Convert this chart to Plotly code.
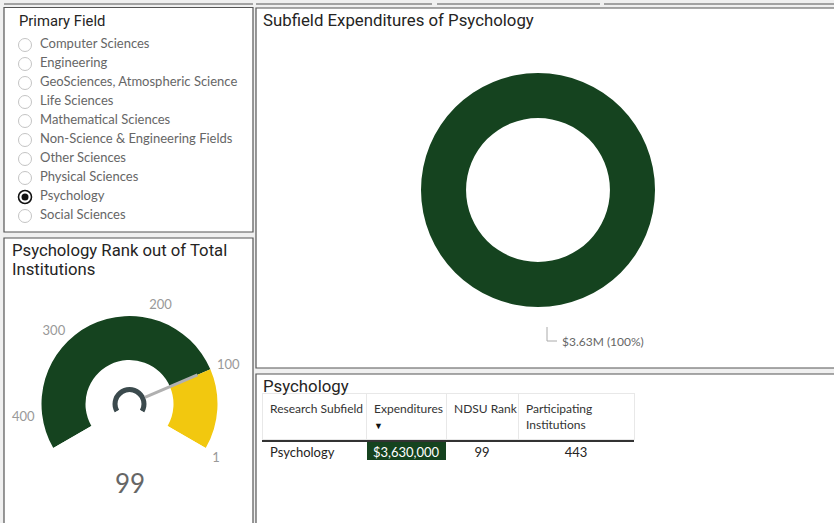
import plotly.graph_objects as go

W, H = 834, 523

# ---------------- data ----------------
fields = ["Computer Sciences", "Engineering", "GeoSciences, Atmospheric Science",
          "Life Sciences", "Mathematical Sciences", "Non-Science & Engineering Fields",
          "Other Sciences", "Physical Sciences", "Psychology", "Social Sciences"]
selected_field = "Psychology"

subfields = ["Psychology"]
expenditures = [3630000]
ndsu_rank = [99]
participating = [443]

gauge_min = 1
gauge_ticks = [1, 100, 200, 300, 400]

# ---------------- style ----------------
GREEN = "#15431F"
YELLOW = "#F2C80F"
HUB = "#3B4A4D"
BORDER = "#555555"
BG = "#F0F0F0"
TITLE_FONT = "Roboto, DejaVu Sans, sans-serif"
BODY_FONT = "Lato, Segoe UI, sans-serif"
NB = "\u00a0"


def px(x):
    return x / W


def py(y):
    return 1 - y / H


fig = go.Figure()

# ---------------- slicer ----------------
fig.add_trace(go.Scatter(
    x=[25] * len(fields), y=fields, mode="markers",
    marker=dict(size=13, color="white",
                line=dict(color=["#111111" if f == selected_field else "#C4C4C4" for f in fields],
                          width=[1.6 if f == selected_field else 1 for f in fields])),
    xaxis="x", yaxis="y", hoverinfo="skip", showlegend=False))
fig.add_trace(go.Scatter(
    x=[25], y=[selected_field], mode="markers",
    marker=dict(size=7, color="#111111"),
    xaxis="x", yaxis="y", hoverinfo="skip", showlegend=False))
fig.add_trace(go.Scatter(
    x=[40] * len(fields), y=fields, mode="text", text=fields,
    textposition="middle right",
    textfont=dict(family=BODY_FONT, size=13, color="#666666"),
    xaxis="x", yaxis="y", hoverinfo="skip", showlegend=False))

# ---------------- gauge ----------------
gmax = participating[0]
val = ndsu_rank[0]
G_START, G_SWEEP = -30, 240


def ang(v):
    return G_START + (v - gauge_min) / (gmax - gauge_min) * G_SWEEP


fig.add_trace(go.Barpolar(
    theta=[ang((val + gmax) / 2), ang((gauge_min + val) / 2)],
    width=[ang(gmax) - ang(val), ang(val) - ang(gauge_min)],
    r=[0.5, 0.5], base=[0.5, 0.5],
    marker=dict(color=[GREEN, YELLOW], line=dict(width=0)),
    hoverinfo="skip", showlegend=False, subplot="polar"))
fig.add_trace(go.Barpolar(
    theta=[ang((gauge_min + gmax) / 2)], width=[ang(gmax) - ang(gauge_min)],
    r=[0.057], base=[0.136],
    marker=dict(color=HUB, line=dict(width=0)),
    hoverinfo="skip", showlegend=False, subplot="polar"))
fig.add_trace(go.Scatterpolar(
    theta=[ang(val), ang(val)], r=[0.19, 0.84], mode="lines",
    line=dict(color="#B0B0B0", width=3),
    hoverinfo="skip", showlegend=False, subplot="polar"))

# ---------------- donut ----------------
fig.add_trace(go.Pie(
    values=expenditures, labels=subfields, hole=0.615, sort=False,
    marker=dict(colors=[GREEN], line=dict(width=0)),
    textinfo="none", hoverinfo="skip", showlegend=False,
    domain=dict(x=[px(421), px(655)], y=[py(307), py(73)])))

# ---------------- table ----------------
exp_text = [f"${v:,.0f}" for v in expenditures]
fig.add_trace(go.Table(
    domain=dict(x=[px(262), px(634)], y=[0, py(393)]),
    columnwidth=[104, 80, 72, 116],
    header=dict(
        values=[f"Research{NB}Subfield<br>{NB}",
                "Expenditures<br><span style='font-size:9px;color:#111'>▼</span>",
                f"NDSU{NB}Rank<br>{NB}", "Participating<br>Institutions"],
        align="left", height=42,
        fill=dict(color="white"),
        line=dict(color="#E8E8E8", width=1),
        font=dict(family=BODY_FONT, size=12, color="#333333")),
    cells=dict(
        values=[subfields, exp_text, [str(v) for v in ndsu_rank], [str(v) for v in participating]],
        align=["left", "center", "center", "center"], height=21,
        fill=dict(color=[["white"], [GREEN], ["white"], ["white"]]),
        line=dict(color="white", width=1),
        font=dict(family=BODY_FONT, size=13,
                  color=[["#252423"], ["white"], ["#252423"], ["#252423"]]))))

# ---------------- panels / decorations ----------------
shapes = []
panels = [(4, 7.5, 253, 232), (4, 238, 253, 530), (256, 8, 840, 368), (256, 374, 840, 530)]
for x0, y0, x1, y1 in panels:
    shapes.append(dict(type="rect", xref="paper", yref="paper", layer="below",
                       x0=px(x0), x1=px(x1), y0=py(y1), y1=py(y0),
                       fillcolor="white", line=dict(color=BORDER, width=1.2)))
for x0, x1 in [(4, 253), (256, 432), (437, 600), (604, 840)]:
    shapes.append(dict(type="line", xref="paper", yref="paper",
                       x0=px(x0), x1=px(x1), y0=py(4), y1=py(4),
                       line=dict(color=BORDER, width=1.2)))
# table header underline
shapes.append(dict(type="line", xref="paper", yref="paper",
                   x0=px(262), x1=px(634), y0=py(441), y1=py(441),
                   line=dict(color="#333333", width=2)))
# donut label leader
shapes.append(dict(type="path", xref="paper", yref="paper",
                   path=f"M {px(547)},{py(327)} L {px(547)},{py(341)} L {px(557)},{py(341)}",
                   line=dict(color="#AAAAAA", width=1)))

annotations = [
    dict(text="Primary Field", x=px(16.5), y=py(21), font=dict(family=TITLE_FONT, size=14.8, color="#252423")),
    dict(text="Psychology Rank out of Total", x=px(9.5), y=py(250),
         font=dict(family=TITLE_FONT, size=16.7, color="#252423")),
    dict(text="Institutions", x=px(9.5), y=py(269),
         font=dict(family=TITLE_FONT, size=16.7, color="#252423")),
    dict(text="Subfield Expenditures of Psychology", x=px(260.5), y=py(20),
         font=dict(family=TITLE_FONT, size=16.8, color="#252423")),
    dict(text="Psychology", x=px(260.5), y=py(386), font=dict(family=TITLE_FONT, size=16.8, color="#252423")),
    dict(text=str(val), x=px(129.5), y=py(483), xanchor="center",
         font=dict(family=BODY_FONT, size=26, color="#666666")),
    dict(text=f"${expenditures[0] / 1e6:.2f}M ({expenditures[0] / sum(expenditures):.0%})",
         x=px(560), y=py(341), font=dict(family=BODY_FONT, size=12, color="#666666")),
]
for a in annotations:
    a.setdefault("xanchor", "left")
    a.update(xref="paper", yref="paper", yanchor="middle", showarrow=False)

fig.update_layout(
    width=W, height=H, autosize=False,
    margin=dict(l=0, r=0, t=0, b=0),
    paper_bgcolor=BG, plot_bgcolor="rgba(0,0,0,0)",
    shapes=shapes, annotations=annotations,
    xaxis=dict(domain=[px(4), px(253)], range=[4, 253], visible=False, fixedrange=True),
    yaxis=dict(domain=[py(225.5), py(35.5)], type="category", categoryorder="array",
               categoryarray=fields, range=[len(fields) - 0.5, -0.5], visible=False, fixedrange=True),
    polar=dict(
        domain=dict(x=[px(34.5), px(224.5)], y=[py(451.5), py(309)]),
        sector=[-30, 210], bgcolor="rgba(0,0,0,0)",
        radialaxis=dict(visible=False, range=[0, 95 / 88]),
        angularaxis=dict(rotation=0, direction="counterclockwise",
                         tickmode="array", tickvals=[ang(t) for t in gauge_ticks],
                         ticktext=[str(t) for t in gauge_ticks],
                         showgrid=False, showline=False, ticks="",
                         tickfont=dict(family=BODY_FONT, size=13, color="#999999")),
    ),
    hovermode=False,
)

fig.write_html("out.html", config={"displayModeBar": False},
               post_script="document.body.style.margin='0px';document.body.style.overflow='hidden';")
